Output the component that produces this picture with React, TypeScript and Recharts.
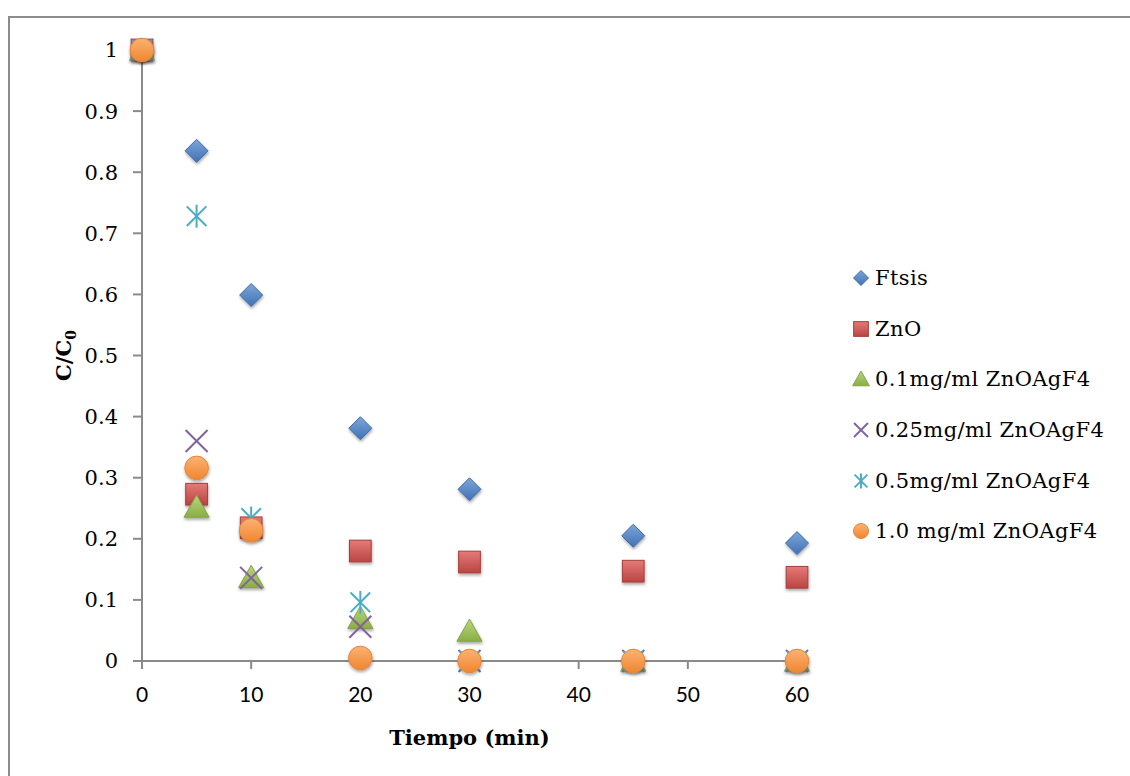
import React from 'react';
import { ScatterChart, Scatter, XAxis, YAxis, Legend } from 'recharts';

const times = [0, 5, 10, 20, 30, 45, 60];
const ftsis = [1, 0.835, 0.599, 0.381, 0.281, 0.205, 0.193];
const zno = [1, 0.273, 0.218, 0.18, 0.162, 0.147, 0.137];
const zno01 = [1, 0.252, 0.137, 0.07, 0.049, 0, 0];
const zno025 = [1, 0.36, 0.136, 0.056, 0, 0, 0];
const zno05 = [1, 0.728, 0.234, 0.096, 0, 0, 0];
const zno10 = [1, 0.316, 0.214, 0.005, 0, 0, 0];

const seriesNames = [
  'Ftsis',
  'ZnO',
  '0.1mg/ml ZnOAgF4',
  '0.25mg/ml ZnOAgF4',
  '0.5mg/ml ZnOAgF4',
  '1.0 mg/ml ZnOAgF4',
];
const xTicks = [0, 10, 20, 30, 40, 50, 60];
const yTicks = [0, 0.1, 0.2, 0.3, 0.4, 0.5, 0.6, 0.7, 0.8, 0.9, 1];
const yTickLabels = ['0', '0.1', '0.2', '0.3', '0.4', '0.5', '0.6', '0.7', '0.8', '0.9', '1'];

const toData = (vals: number[]) => times.map((t, i) => ({ x: t, y: vals[i] }));

const SERIF = '"DejaVu Serif", serif';
const AXIS = '#8a8a8a';

type MarkerFn = (cx: number, cy: number, s: number, shadow?: boolean) => React.ReactElement;

const sh = (on?: boolean) => (on ? 'url(#mShadow)' : undefined);

const diamond: MarkerFn = (cx, cy, s, shadow) => (
  <polygon
    points={`${cx},${cy - s} ${cx + s},${cy} ${cx},${cy + s} ${cx - s},${cy}`}
    fill="url(#gBlue) #4F81BD"
    stroke="#3D6DA8"
    strokeWidth={1}
    filter={sh(shadow)}
  />
);
const square: MarkerFn = (cx, cy, s, shadow) => (
  <rect
    x={cx - s * 0.92}
    y={cy - s * 0.92}
    width={s * 1.84}
    height={s * 1.84}
    fill="url(#gRed) #C0504D"
    stroke="#A33F3C"
    strokeWidth={1}
    filter={sh(shadow)}
  />
);
const triangle: MarkerFn = (cx, cy, s, shadow) => (
  <polygon
    points={`${cx},${cy - s} ${cx + s * 1.05},${cy + s * 0.85} ${cx - s * 1.05},${cy + s * 0.85}`}
    fill="url(#gGreen) #9BBB59"
    stroke="#86A447"
    strokeWidth={1}
    filter={sh(shadow)}
  />
);
const xMark: MarkerFn = (cx, cy, s) => (
  <g stroke="#8064A2" strokeWidth={2}>
    <line x1={cx - s} y1={cy - s} x2={cx + s} y2={cy + s} />
    <line x1={cx - s} y1={cy + s} x2={cx + s} y2={cy - s} />
  </g>
);
const asterisk: MarkerFn = (cx, cy, s) => (
  <g stroke="#4BACC6" strokeWidth={2}>
    <line x1={cx - s * 0.85} y1={cy - s * 0.85} x2={cx + s * 0.85} y2={cy + s * 0.85} />
    <line x1={cx - s * 0.85} y1={cy + s * 0.85} x2={cx + s * 0.85} y2={cy - s * 0.85} />
    <line x1={cx} y1={cy - s} x2={cx} y2={cy + s} />
  </g>
);
const circle: MarkerFn = (cx, cy, s, shadow) => (
  <circle
    cx={cx}
    cy={cy}
    r={s}
    fill="url(#gOrange) #F79646"
    stroke="#E8843A"
    strokeWidth={1}
    filter={sh(shadow)}
  />
);

const seriesData = [ftsis, zno, zno01, zno025, zno05, zno10];
const markers: MarkerFn[] = [diamond, square, triangle, xMark, asterisk, circle];
const sizes = [11.5, 11.8, 12, 11, 11.5, 11.8];
const legendSizes = [7.5, 8, 8, 7, 7.5, 7.5];

const LegendContent = () => (
  <div style={{ fontFamily: SERIF, fontSize: 21, color: '#000', letterSpacing: 0.4 }}>
    {seriesNames.map((n, i) => (
      <div key={n} style={{ height: 50.6, display: 'flex', alignItems: 'center', whiteSpace: 'nowrap' }}>
        <svg width={20} height={20} style={{ overflow: 'visible' }}>
          <defs>
            <linearGradient id={`lg${i}`} x1="0" y1="0" x2="0" y2="1">
              <stop offset="0" stopColor="#fff" stopOpacity={0} />
            </linearGradient>
          </defs>
          {markers[i](10, 10, legendSizes[i])}
        </svg>
        <span style={{ marginLeft: 4 }}>{n}</span>
      </div>
    ))}
  </div>
);

const YLabel = (props: any) => {
  const vb = props.viewBox || { x: 0, y: 32, width: 132, height: 611 };
  const cx = vb.x + 61;
  const cy = vb.y + vb.height / 2;
  return (
    <text
      transform={`translate(${cx},${cy}) rotate(-90)`}
      textAnchor="middle"
      fontFamily={SERIF}
      fontWeight="bold"
      fontSize={21}
      fill="#000"
    >
      C/C<tspan fontSize={14} dy={5}>0</tspan>
    </text>
  );
};

const XLabel = (props: any) => {
  const vb = props.viewBox || { x: 132, y: 643, width: 655, height: 117 };
  return (
    <text
      x={vb.x + vb.width / 2}
      y={vb.y + 84}
      textAnchor="middle"
      fontFamily={SERIF}
      fontWeight="bold"
      fontSize={21}
      fill="#000"
    >
      Tiempo (min)
    </text>
  );
};

export default function App() {
  return (
    <div style={{ width: 1122, height: 768, overflow: 'hidden' }}>
      <style>{`body{margin:8px 0 0 8px;overflow:hidden;}`}</style>
      <div
        style={{
          marginTop: 8,
          width: 1160,
          height: 800,
          border: '2px solid #8c8c8c',
          boxSizing: 'border-box',
          background: '#fff',
        }}
      >
        <ScatterChart width={1118} height={760} margin={{ top: 32, right: 331, bottom: 0, left: 0 }}>
          <defs>
            <linearGradient id="gBlue" x1="0" y1="0" x2="0" y2="1">
              <stop offset="0" stopColor="#7FA6DA" />
              <stop offset="1" stopColor="#3F72B4" />
            </linearGradient>
            <linearGradient id="gRed" x1="0" y1="0" x2="0" y2="1">
              <stop offset="0" stopColor="#E57A77" />
              <stop offset="1" stopColor="#BA4542" />
            </linearGradient>
            <linearGradient id="gGreen" x1="0" y1="0" x2="0" y2="1">
              <stop offset="0" stopColor="#B8D77E" />
              <stop offset="1" stopColor="#8AAE45" />
            </linearGradient>
            <linearGradient id="gOrange" x1="0" y1="0" x2="0" y2="1">
              <stop offset="0" stopColor="#FBB273" />
              <stop offset="1" stopColor="#F0862F" />
            </linearGradient>
            <filter id="mShadow" x="-50%" y="-50%" width="200%" height="200%">
              <feDropShadow dx={0.5} dy={2} stdDeviation={1.5} floodColor="#000" floodOpacity={0.35} />
            </filter>
          </defs>
          <XAxis
            type="number"
            dataKey="x"
            domain={[0, 60]}
            ticks={xTicks}
            interval={0}
            height={117}
            stroke={AXIS}
            strokeWidth={2}
            tickSize={8}
            tickMargin={18}
            tick={{ fill: '#000', fontSize: 21, fontFamily: 'Lato, sans-serif' }}
            label={<XLabel />}
          />
          <YAxis
            type="number"
            dataKey="y"
            domain={[0, 1]}
            ticks={yTicks}
            interval={0}
            width={132}
            stroke={AXIS}
            strokeWidth={2}
            tickSize={9}
            tickMargin={15}
            tickFormatter={(v: number) => yTickLabels[yTicks.indexOf(v)] ?? String(v)}
            tick={{ fill: '#000', fontSize: 21, fontFamily: SERIF }}
            label={<YLabel />}
          />
          <Legend
            layout="vertical"
            align="center"
            verticalAlign="middle"
            content={<LegendContent />}
            wrapperStyle={{ left: 841, top: 235, width: 280 }}
          />
          {seriesData.map((vals, i) => (
            <Scatter
              key={seriesNames[i]}
              name={seriesNames[i]}
              data={toData(vals)}
              isAnimationActive={false}
              shape={(p: any) => markers[i](p.cx, p.cy, sizes[i], true)}
            />
          ))}
        </ScatterChart>
      </div>
    </div>
  );
}
